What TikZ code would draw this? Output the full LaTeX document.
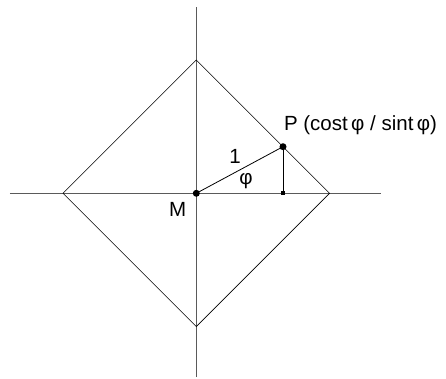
\documentclass[tikz,border=0pt]{standalone}
\usepackage{fontspec}
\setmainfont{Liberation Sans}
\usepackage{tikz}
\usetikzlibrary{positioning}
\definecolor{AxisGray}{HTML}{5A5A5A}

\begin{document}
\begin{tikzpicture}[
    x=1pt, y=1pt,
    font=\fontsize{20.5}{22}\selectfont,
    axis/.style={draw=AxisGray, line width=0.8pt},
    edge/.style={draw=black, line width=0.6pt},
    seg/.style={draw=black, line width=0.8pt},
    dot/.style={circle, fill=black, inner sep=0pt, minimum size=7pt},
    foot/.style={rectangle, fill=black, inner sep=0pt, minimum size=4pt},
    lbl/.style={inner sep=0pt}
  ]
    \useasboundingbox (-196.3,-184.7) rectangle (249.7,193.3);
    \coordinate (west) at (-186.3,0);
    \coordinate (east) at (184.4,0);
    \coordinate (north) at (0,186);
    \coordinate (south) at (0,-183.7);
    \coordinate (top) at (0,133.3);
    \coordinate (right) at (133.3,0);
    \coordinate (bottom) at (0,-133.3);
    \coordinate (left) at (-133.3,0);

    \draw[axis] (west) -- (east);
    \draw[axis] (south) -- (north);
    \draw[edge] (top) -- (right) -- (bottom) -- (left) -- cycle;

    \node[dot] (M) at (0,0) {};
    \node[dot] (P) at (86.7,46.6) {};
    \node[foot] (F) at (86.7,0) {};

    \draw[seg] (M.center) -- (P.center);
    \draw[seg] (P.center) -- (F.center);

    \node[lbl] (Mlabel) at (-18.6,-16) {M};
    \node[lbl] (one) at (38.7,37.3) {1};
    \node[lbl] (phi) at (49.7,12.3) {φ};
    \node[lbl, anchor=west] (Plabel) at (87.5,68.3) {P (cost\,φ / sint\,φ)};
  \end{tikzpicture}
\end{document}
